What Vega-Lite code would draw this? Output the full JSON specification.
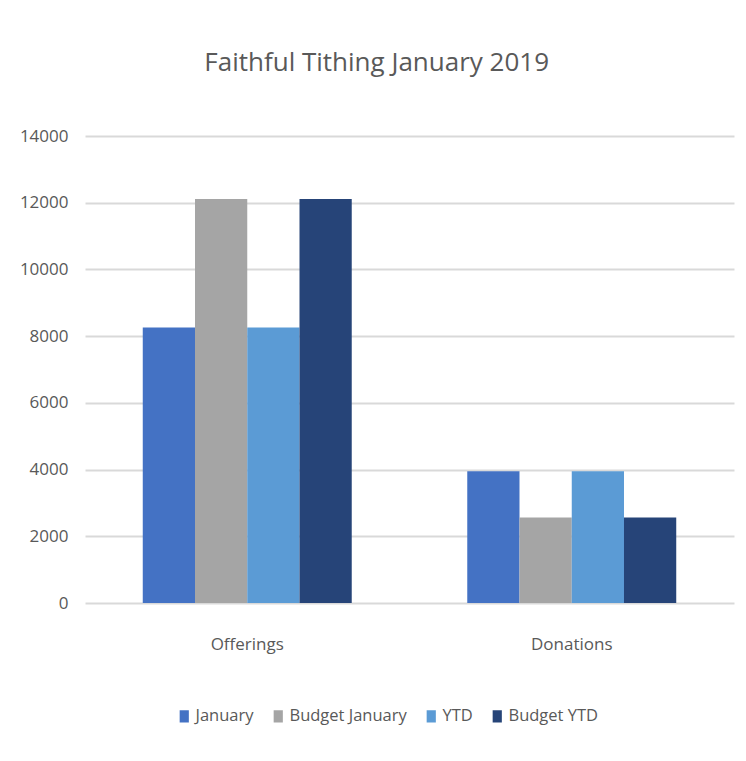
{
  "$schema": "https://vega.github.io/schema/vega-lite/v6.json",
  "autosize": {"type": "none"},
  "padding": {"left": 85, "top": 136, "right": 12, "bottom": 158},
  "width": 649,
  "height": 467,
  "background": "white",
  "title": {
    "text": "Faithful Tithing January 2019",
    "font": "Open Sans",
    "fontSize": 26,
    "fontWeight": "normal",
    "color": "#595959",
    "anchor": "middle",
    "frame": "bounds",
    "offset": 51
  },
  "data": {
    "values": [
      {"category": "Offerings", "series": "January", "value": 8257},
      {"category": "Offerings", "series": "Budget January", "value": 12110},
      {"category": "Offerings", "series": "YTD", "value": 8257},
      {"category": "Offerings", "series": "Budget YTD", "value": 12110},
      {"category": "Donations", "series": "January", "value": 3950},
      {"category": "Donations", "series": "Budget January", "value": 2565},
      {"category": "Donations", "series": "YTD", "value": 3950},
      {"category": "Donations", "series": "Budget YTD", "value": 2565}
    ]
  },
  "mark": {"type": "bar"},
  "encoding": {
    "x": {
      "field": "category",
      "type": "nominal",
      "sort": ["Offerings", "Donations"],
      "scale": {"paddingInner": 0.356, "paddingOuter": 0.178},
      "axis": {
        "title": null,
        "labelAngle": 0,
        "domain": false,
        "ticks": false,
        "labelFont": "Open Sans",
        "labelFontSize": 17,
        "labelColor": "#595959",
        "labelPadding": 33
      }
    },
    "xOffset": {
      "field": "series",
      "type": "nominal",
      "sort": ["January", "Budget January", "YTD", "Budget YTD"],
      "scale": {"paddingInner": 0, "paddingOuter": 0}
    },
    "y": {
      "field": "value",
      "type": "quantitative",
      "scale": {"domain": [0, 14000], "nice": false},
      "axis": {
        "title": null,
        "values": [0, 2000, 4000, 6000, 8000, 10000, 12000, 14000],
        "format": "d",
        "domain": false,
        "ticks": false,
        "gridColor": "#d9d9d9",
        "gridWidth": 2,
        "labelFont": "Open Sans",
        "labelFontSize": 17,
        "labelColor": "#595959",
        "labelPadding": 17
      }
    },
    "color": {
      "field": "series",
      "type": "nominal",
      "sort": ["January", "Budget January", "YTD", "Budget YTD"],
      "scale": {
        "domain": ["January", "Budget January", "YTD", "Budget YTD"],
        "range": ["#4472C4", "#A5A5A5", "#5B9BD5", "#264478"]
      },
      "legend": {
        "title": null,
        "orient": "none",
        "direction": "horizontal",
        "legendX": 91,
        "legendY": 572,
        "symbolType": "M-0.75,-1H0.75V1H-0.75Z",
        "symbolSize": 150,
        "symbolStrokeWidth": 0,
        "labelFont": "Open Sans",
        "labelFontSize": 16.5,
        "labelColor": "#595959",
        "labelOffset": 3,
        "columnPadding": 16
      }
    }
  },
  "config": {
    "view": {"stroke": null}
  }
}
